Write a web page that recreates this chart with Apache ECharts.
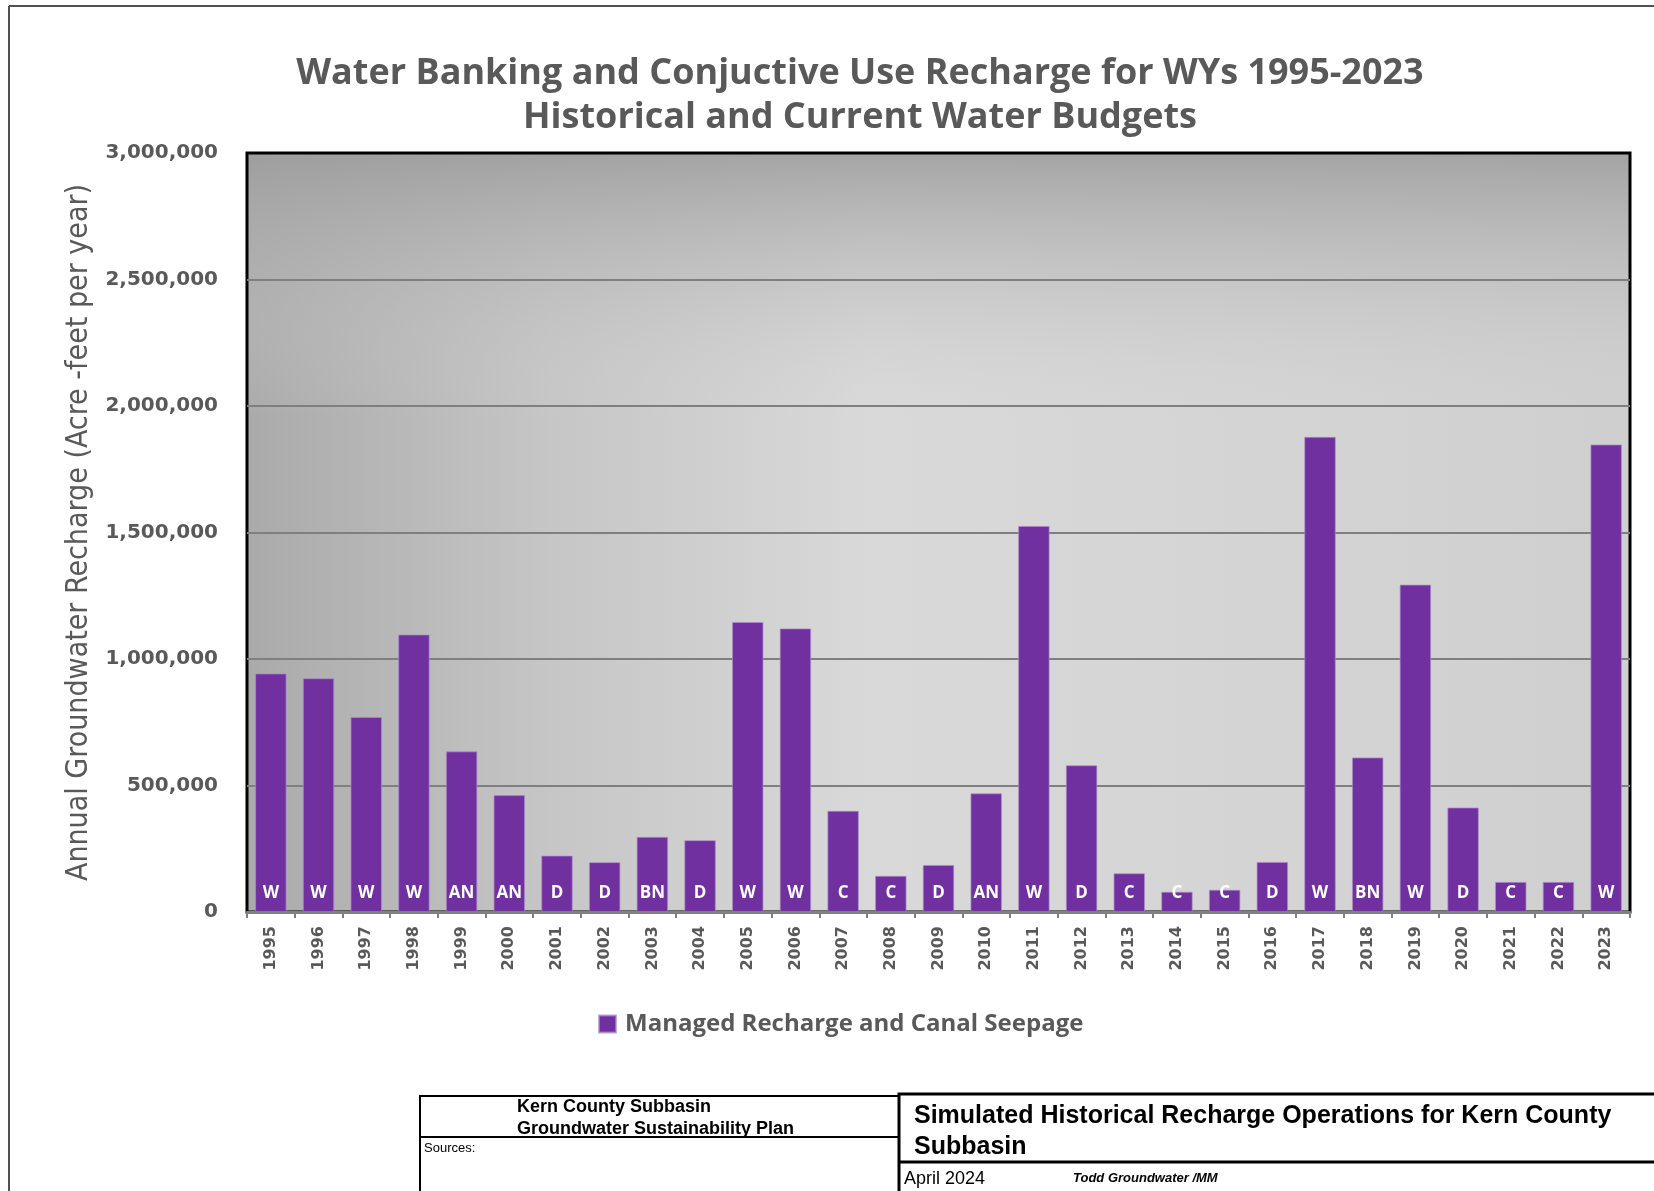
<!DOCTYPE html>
<html>
<head>
<meta charset="utf-8">
<script src="https://cdn.jsdelivr.net/npm/echarts@6/dist/echarts.min.js"></script>
<style>
html,body{margin:0;padding:0;background:#fff;}
#chart{width:1654px;height:1191px;}
</style>
</head>
<body>
<div id="chart"></div>
<script>
// ---- data ----
const years = ['1995','1996','1997','1998','1999','2000','2001','2002','2003','2004','2005','2006','2007','2008','2009','2010','2011','2012','2013','2014','2015','2016','2017','2018','2019','2020','2021','2022','2023'];
const recharge = [943000, 924000, 771000, 1097000, 635000, 462000, 223000, 197000, 297000, 284000, 1146000, 1121000, 400000, 143000, 186000, 469000, 1526000, 580000, 153000, 80000, 88000, 198000, 1878000, 611000, 1294000, 413000, 119000, 119000, 1848000];
const yearTypes = ['W','W','W','W','AN','AN','D','D','BN','D','W','W','C','C','D','AN','W','D','C','C','C','D','W','BN','W','D','C','C','W'];
const yMin = 0, yMax = 3000000, yStep = 500000;
const titleLines = ['Water Banking and Conjuctive Use Recharge for WYs 1995-2023', 'Historical and Current Water Budgets'];
const yAxisTitle = 'Annual Groundwater Recharge (Acre -feet per year)';
const seriesName = 'Managed Recharge and Canal Seepage';

const gray = '#595959';
const purple = '#7030a0';

const chart = echarts.init(document.getElementById('chart'), null, {renderer: 'canvas'});
const option = {
  backgroundColor: '#ffffff',
  animation: false,
  title: {
    text: titleLines.join('\n'),
    left: 860,
    top: 52,
    padding: 0,
    textAlign: 'center',
    textStyle: {
      fontFamily: 'Open Sans',
      fontWeight: 'bold',
      fontSize: 36,
      color: gray,
      lineHeight: 44
    }
  },
  legend: {
    left: 593,
    top: 1007,
    itemWidth: 17,
    itemHeight: 17,
    icon: 'rect',
    itemGap: 10,
    textStyle: {fontFamily: 'Open Sans', fontWeight: 'bold', fontSize: 24, color: gray, padding: [0, 0, 0, 4]},
    data: [seriesName]
  },
  grid: [
    {
      left: 247, right: 24, top: 153, bottom: 279,
      show: true,
      borderWidth: 0,
      backgroundColor: {
        type: 'linear', x: 0, y: 0, x2: 1, y2: 0,
        colorStops: [
          {offset: 0, color: '#aaaaaa'},
          {offset: 0.22, color: '#c6c6c6'},
          {offset: 0.45, color: '#d9d9d9'},
          {offset: 0.75, color: '#d4d4d4'},
          {offset: 1, color: '#cfcfcf'}
        ]
      }
    },
    {
      left: 247, right: 24, top: 153, bottom: 279,
      show: true,
      borderWidth: 3,
      borderColor: '#000000',
      backgroundColor: {
        type: 'linear', x: 0, y: 0, x2: 0, y2: 1,
        colorStops: [
          {offset: 0, color: 'rgba(155,155,155,0.85)'},
          {offset: 0.15, color: 'rgba(178,178,178,0.5)'},
          {offset: 0.35, color: 'rgba(210,210,210,0)'},
          {offset: 1, color: 'rgba(210,210,210,0)'}
        ]
      }
    }
  ],
  xAxis: [
    {
      type: 'category',
      gridIndex: 0,
      data: years,
      axisLine: {show: true, lineStyle: {color: '#808080', width: 3}},
      axisTick: {show: true, length: 6, lineStyle: {color: '#808080', width: 2}},
      axisLabel: {
        rotate: 90,
        margin: 14,
        fontFamily: 'DejaVu Sans',
        fontWeight: 'bold',
        fontSize: 16,
        color: gray
      },
      z: 5
    },
    {type: 'value', gridIndex: 1, show: false, min: 0, max: 1}
  ],
  yAxis: [
    {
      type: 'value',
      gridIndex: 0,
      min: yMin,
      max: yMax,
      interval: yStep,
      name: yAxisTitle,
      nameLocation: 'middle',
      nameGap: 151,
      nameTextStyle: {
        fontFamily: "'Liberation Sans Narrow', 'DejaVu Sans Condensed', sans-serif",
        fontSize: 30,
        color: gray
      },
      axisLine: {show: false},
      axisTick: {show: false},
      axisLabel: {
        margin: 29,
        fontFamily: 'DejaVu Sans',
        fontWeight: 'bold',
        fontSize: 20,
        color: gray,
        padding: [8, 0, 0, 0],
        formatter: v => v.toLocaleString('en-US')
      },
      splitLine: {show: true, showMaxLine: false, showMinLine: false, lineStyle: {color: '#7f7f7f', width: 2}}
    },
    {type: 'value', gridIndex: 1, show: false, min: 0, max: 1}
  ],
  series: [
    {
      name: seriesName,
      type: 'bar',
      xAxisIndex: 0,
      yAxisIndex: 0,
      data: recharge,
      barCategoryGap: '34%',
      itemStyle: {color: purple, borderColor: 'rgba(170,140,200,0.7)', borderWidth: 1},
      label: {
        show: true,
        position: 'insideBottom',
        distance: 10,
        color: '#ffffff',
        fontFamily: 'Open Sans',
        fontWeight: 'bold',
        fontSize: 17,
        formatter: p => yearTypes[p.dataIndex]
      },
      z: 3
    }
  ],
  graphic: [
    // outer frame
    {type: 'line', shape: {x1: 9, y1: 6, x2: 1654, y2: 6}, style: {stroke: '#505050', lineWidth: 2}, silent: true},
    {type: 'line', shape: {x1: 9, y1: 6, x2: 9, y2: 1191}, style: {stroke: '#505050', lineWidth: 2}, silent: true},
    // footer boxes
    {type: 'rect', shape: {x: 420, y: 1096, width: 479, height: 140}, style: {fill: 'none', stroke: '#000', lineWidth: 2}, silent: true},
    {type: 'line', shape: {x1: 420, y1: 1137, x2: 899, y2: 1137}, style: {stroke: '#000', lineWidth: 2}, silent: true},
    {type: 'rect', shape: {x: 899, y: 1094, width: 800, height: 140}, style: {fill: 'none', stroke: '#000', lineWidth: 3}, silent: true},
    {type: 'line', shape: {x1: 899, y1: 1162, x2: 1654, y2: 1162}, style: {stroke: '#000', lineWidth: 3}, silent: true},
    {type: 'text', style: {text: 'Kern County Subbasin', x: 517, y: 1107, font: 'bold 18px "Liberation Sans", Arial, sans-serif', fill: '#000', verticalAlign: 'middle'}, silent: true},
    {type: 'text', style: {text: 'Groundwater Sustainability Plan', x: 517, y: 1129, font: 'bold 18px "Liberation Sans", Arial, sans-serif', fill: '#000', verticalAlign: 'middle'}, silent: true},
    {type: 'text', style: {text: 'Sources:', x: 424, y: 1148, font: '13px "Liberation Sans", Arial, sans-serif', fill: '#000', verticalAlign: 'middle'}, silent: true},
    {type: 'text', style: {text: 'Simulated Historical Recharge Operations for Kern County', x: 914, y: 1116, font: 'bold 25px "Liberation Sans", Arial, sans-serif', fill: '#000', verticalAlign: 'middle'}, silent: true},
    {type: 'text', style: {text: 'Subbasin', x: 914, y: 1147, font: 'bold 25px "Liberation Sans", Arial, sans-serif', fill: '#000', verticalAlign: 'middle'}, silent: true},
    {type: 'text', style: {text: 'April 2024', x: 904, y: 1179, font: '18px "Liberation Sans", Arial, sans-serif', fill: '#000', verticalAlign: 'middle'}, silent: true},
    {type: 'text', style: {text: 'Todd Groundwater /MM', x: 1073, y: 1178, font: 'italic bold 13px "Liberation Sans", Arial, sans-serif', fill: '#000', verticalAlign: 'middle'}, silent: true}
  ]
};
chart.setOption(option);
</script>
</body>
</html>
